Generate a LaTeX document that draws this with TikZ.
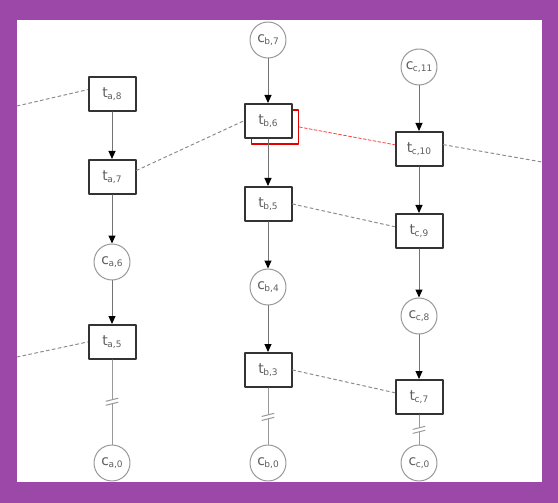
\documentclass[tikz,border=0pt]{standalone}
\usepackage{fontspec}
\setmainfont{DejaVu Sans}
\usetikzlibrary{arrows.meta}
\definecolor{frame}{RGB}{155,72,168}
\definecolor{ink}{RGB}{95,95,95}
\newcommand{\lbl}[2]{#1\kern-0.5pt\raisebox{-0.3ex}{\fontsize{9}{9}\selectfont #2}}

\begin{document}
\begin{tikzpicture}[x=1pt, y=-1pt, font=\fontsize{14}{16}\selectfont, line join=round, line cap=round,
	tbox/.style={draw=black!80, line width=2pt, fill=white, minimum width=47pt, minimum height=34pt, inner sep=0pt, text=ink},
	hbox/.style={draw=red!90!black, line width=1.6pt, minimum width=47pt, minimum height=34pt, inner sep=0pt},
	cnode/.style={circle, draw=black!40, line width=1pt, fill=white, minimum size=36pt, inner sep=0pt, text=ink},
	flow/.style={draw=black!55, line width=1pt, -{Triangle[width=7pt,length=8pt,black]}},
	plain/.style={draw=black!40, line width=1pt},
	link/.style={draw=black!45, line width=1pt, dash pattern=on 3pt off 3pt},
	hlink/.style={draw=red!75, line width=0.8pt, dash pattern=on 3pt off 2pt}]
	
	\def\brk#1{
		\fill[white] ([shift={(-3,-3)}]#1) rectangle ([shift={(3,2)}]#1);
		\draw[plain] ([shift={(-6,-1)}]#1) -- ([shift={(6,-4)}]#1);
		\draw[plain] ([shift={(-6,3)}]#1) -- ([shift={(6,0)}]#1);
	}
	
	\fill[frame] (0,0) rectangle (558,503);
	\fill[white] (17,20) rectangle (542,482);
	
	\node[tbox] (ta8) at (112,94) {\lbl{t}{a,8}};
	\node[tbox] (ta7) at (112,177) {\lbl{t}{a,7}};
	\node[cnode] (ca6) at (112,262) {\lbl{c}{a,6}};
	\node[tbox] (ta5) at (112,342) {\lbl{t}{a,5}};
	\node[cnode] (ca0) at (112,463) {\lbl{c}{a,0}};
	
	\node[cnode] (cb7) at (268,40) {\lbl{c}{b,7}};
	\node[hbox] (tb6r) at (275,127) {};
	\node[tbox] (tb6) at (268,121) {\lbl{t}{b,6}};
	\node[tbox] (tb5) at (268,204) {\lbl{t}{b,5}};
	\node[cnode] (cb4) at (268,287) {\lbl{c}{b,4}};
	\node[tbox] (tb3) at (268,370) {\lbl{t}{b,3}};
	\node[cnode] (cb0) at (268,463) {\lbl{c}{b,0}};
	
	\node[cnode] (cc11) at (419,67) {\lbl{c}{c,11}};
	\node[tbox] (tc10) at (419,149) {\lbl{t}{c,10}};
	\node[tbox] (tc9) at (419,231) {\lbl{t}{c,9}};
	\node[cnode] (cc8) at (419,316) {\lbl{c}{c,8}};
	\node[tbox] (tc7) at (419,397) {\lbl{t}{c,7}};
	\node[cnode] (cc0) at (419,463) {\lbl{c}{c,0}};
	
	\coordinate (la) at (17,106);
	\coordinate (lb) at (17,357);
	\coordinate (rc) at (542,162);
	
	\draw[flow] (ta8) -- (ta7);
	\draw[flow] (ta7) -- (ca6);
	\draw[flow] (ca6) -- (ta5);
	\draw[flow] (cb7) -- (tb6);
	\draw[flow] (tb6) -- (tb5);
	\draw[flow] (tb5) -- (cb4);
	\draw[flow] (cb4) -- (tb3);
	\draw[flow] (cc11) -- (tc10);
	\draw[flow] (tc10) -- (tc9);
	\draw[flow] (tc9) -- (cc8);
	\draw[flow] (cc8) -- (tc7);
	
	\draw[plain] (ta5) -- coordinate[pos=.5] (ka) (ca0);
	\draw[plain] (tb3) -- coordinate[pos=.52] (kb) (cb0);
	\draw[plain] (tc7) -- coordinate[pos=.52] (kc) (cc0);
	\brk{ka}
	\brk{kb}
	\brk{kc}
	
	\draw[link] (la) -- (ta8.170);
	\draw[link] (ta7.15) -- (tb6.west);
	\draw[hlink] (tb6r.east) -- (tc10.170);
	\draw[link] (tc10.10) -- (rc);
	\draw[link] (tb5.east) -- (tc9.170);
	\draw[link] (lb) -- (ta5.west);
	\draw[link] (tb3.east) -- (tc7.170);
\end{tikzpicture}
\end{document}
